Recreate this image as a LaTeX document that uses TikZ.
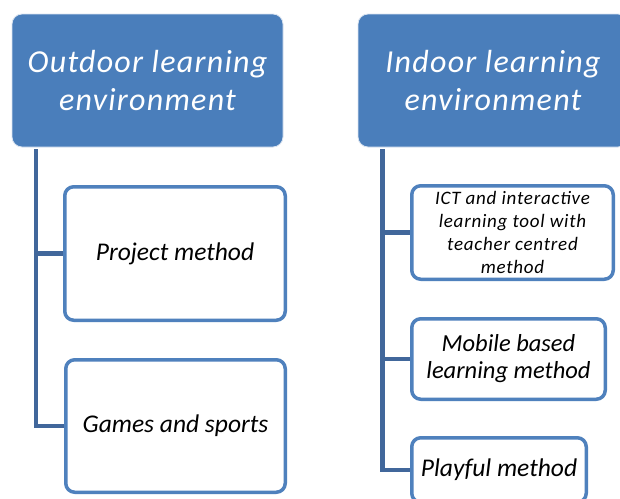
\documentclass[tikz,border=0pt]{standalone}
\usepackage{fontspec}
\setmainfont{Carlito}
\newfontfamily\widefont[LetterSpace=4]{Carlito}
\definecolor{hdrfill}{HTML}{4A7EBB}
\definecolor{boxline}{HTML}{4F81BD}
\definecolor{connline}{HTML}{41679B}
\tikzset{
  hdr/.style={rounded corners=10pt, fill=hdrfill, draw=white!80!hdrfill, line width=0.8pt,
    text=white, align=center, font=\widefont\fontsize{32}{38}\selectfont\itshape, inner sep=0pt},
  child/.style={rounded corners=9pt, fill=white, draw=boxline, line width=3.5pt,
    text=black, align=center, inner sep=0pt},
  conn/.style={draw=connline, line width=4.5pt}
}
\begin{document}
\begin{tikzpicture}[x=1pt,y=-1pt]
\useasboundingbox (0,0) rectangle (620,498);
\clip (0,0) rectangle (620,498);
\fill[white] (0,0) rectangle (620,498);
% headers
\node[hdr, minimum width=271pt, minimum height=133pt] (out) at (147.5,80.5) {Outdoor learning\\environment};
\node[hdr, minimum width=270pt, minimum height=133pt] (in) at (493,80.5) {Indoor learning\\environment};
% outdoor children
\node[child, minimum width=220.5pt, minimum height=133.5pt, font=\fontsize{25.5}{30}\selectfont\itshape] (proj) at (175,253.5) {Project method};
\node[child, minimum width=219.5pt, minimum height=132.5pt, font=\fontsize{25.5}{30}\selectfont\itshape] (games) at (175.5,426) {Games and sports};
% indoor children
\node[child, minimum width=201.5pt, minimum height=93.5pt, font=\widefont\fontsize{19}{23}\selectfont\itshape] (ict) at (512.5,232.5) {ICT and interactive\\learning tool with\\teacher centred\\method};
\node[child, minimum width=193.5pt, minimum height=80.5pt, font=\fontsize{24.5}{27}\selectfont\itshape] (mob) at (508.5,359) {Mobile based\\learning method};
\node[child, minimum width=174.5pt, minimum height=64.5pt, font=\fontsize{25.5}{30}\selectfont\itshape] (play) at (499,470) {Playful method};
% connectors
\coordinate (ob) at ([xshift=24.5pt,yshift=-2pt]out.south west);
\coordinate (ib) at ([xshift=25pt,yshift=-2pt]in.south west);
\draw[conn] (ob) |- (games.west);
\draw[conn] (ob |- proj.west) -- (proj.west);
\draw[conn] (ib) |- (play.west);
\draw[conn] (ib |- ict.west) -- (ict.west);
\draw[conn] (ib |- mob.west) -- (mob.west);
\end{tikzpicture}
\end{document}
